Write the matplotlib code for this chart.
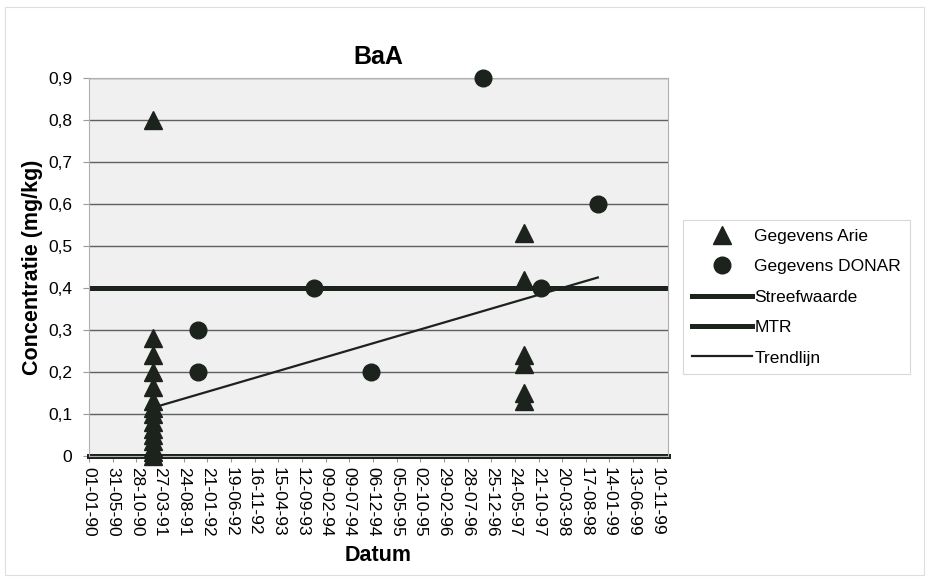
import matplotlib
matplotlib.use('Agg')
import matplotlib.pyplot as plt
from matplotlib.lines import Line2D
from matplotlib.patches import Rectangle
from datetime import datetime

plt.rcParams['font.family'] = ['Liberation Sans', 'DejaVu Sans']

# ---------------- data ----------------
title = 'BaA'
x_label = 'Datum'
y_label = 'Concentratie (mg/kg)'

tick_labels = ['01-01-90', '31-05-90', '28-10-90', '27-03-91', '24-08-91', '21-01-92',
               '19-06-92', '16-11-92', '15-04-93', '12-09-93', '09-02-94', '09-07-94',
               '06-12-94', '05-05-95', '02-10-95', '29-02-96', '28-07-96', '25-12-96',
               '24-05-97', '21-10-97', '20-03-98', '17-08-98', '14-01-99', '13-06-99',
               '10-11-99']
y_ticks = [0, 0.1, 0.2, 0.3, 0.4, 0.5, 0.6, 0.7, 0.8, 0.9]
y_tick_labels = ['0', '0,1', '0,2', '0,3', '0,4', '0,5', '0,6', '0,7', '0,8', '0,9']

arie_dates = ['10-02-1991'] * 15 + ['22-07-1997'] * 6
arie_values = [0.80, 0.28, 0.24, 0.20, 0.165, 0.13, 0.115, 0.10, 0.08, 0.065, 0.05,
               0.035, 0.02, 0.01, 0.0,
               0.53, 0.42, 0.24, 0.22, 0.15, 0.13]

donar_dates = ['21-11-1991', '21-11-1991', '25-11-1993', '27-11-1994', '04-11-1996',
               '06-11-1997', '01-11-1998']
donar_values = [0.30, 0.20, 0.40, 0.20, 0.90, 0.40, 0.60]

streefwaarde = 0.4
mtr = 0.0

trend_dates = ['10-02-1991', '01-11-1998']
trend_values = [0.115, 0.425]

x_range = ['01-01-1990', '20-01-2000']

# ---------------- helpers ----------------
def d(s):
    return datetime.strptime(s, '%d-%m-%Y')

def dt(s):
    return datetime.strptime(s, '%d-%m-%y')

dark = '#1c221c'

fig = plt.figure(figsize=(9.29, 5.82), dpi=100)
fig.patch.set_facecolor('white')

# faint outer chart border
fig.patches.append(Rectangle((5 / 929, 7 / 582), 919 / 929, 568 / 582,
                             transform=fig.transFigure, fill=False,
                             edgecolor='#dedede', linewidth=0.8))

ax = fig.add_axes([89 / 929, 1 - 456 / 582, (668 - 89) / 929, (456 - 78) / 582])
ax.set_facecolor('#f0f0f0')

ax.set_xlim(d(x_range[0]), d(x_range[1]))
ax.set_ylim(0, 0.9)

# gridlines
for v in y_ticks[1:]:
    ax.axhline(v, color='#5f5f5f', linewidth=1.0, zorder=1)

# reference lines
ax.axhline(streefwaarde, color=dark, linewidth=3.6, zorder=2)
ax.axhline(mtr, color=dark, linewidth=3.6, zorder=2, clip_on=False)

# trend line
ax.plot([d(s) for s in trend_dates], trend_values, color=dark, linewidth=1.6, zorder=3)

# data
ax.plot([d(s) for s in arie_dates], arie_values, linestyle='none', marker='^',
        markersize=12.5, color=dark, zorder=4, clip_on=False)
ax.plot([d(s) for s in donar_dates], donar_values, linestyle='none', marker='o',
        markersize=12, color=dark, zorder=4, clip_on=False)

# axes formatting
ax.set_xticks([dt(s) for s in tick_labels])
ax.set_xticklabels(tick_labels, rotation=270, fontsize=12.5)
ax.set_yticks(y_ticks)
ax.set_yticklabels(y_tick_labels, fontsize=12.5)
ax.tick_params(axis='both', direction='out', length=4, width=0.8, color='#9a9a9a')
ax.tick_params(axis='x', pad=4)
ax.tick_params(axis='y', pad=8)

for side in ['left', 'right', 'top', 'bottom']:
    ax.spines[side].set_color('#b0b0b0')
    ax.spines[side].set_linewidth(0.8)

ax.set_title(title, fontsize=18, fontweight='bold', pad=10)
ax.set_ylabel(y_label, fontsize=15.5, fontweight='bold', labelpad=4)
ax.set_xlabel(x_label, fontsize=15.5, fontweight='bold', labelpad=6)

# legend
handles = [
    Line2D([], [], linestyle='none', marker='^', markersize=12.5, color=dark),
    Line2D([], [], linestyle='none', marker='o', markersize=12, color=dark),
    Line2D([], [], color=dark, linewidth=3.6),
    Line2D([], [], color=dark, linewidth=3.6),
    Line2D([], [], color=dark, linewidth=1.6),
]
labels = ['Gegevens Arie', 'Gegevens DONAR', 'Streefwaarde', 'MTR', 'Trendlijn']
leg = fig.legend(handles, labels, loc='upper left',
                 bbox_to_anchor=(683 / 929, 1 - 220 / 582),
                 fontsize=12.5, frameon=True, fancybox=False,
                 handlelength=3.5, handletextpad=0.1, labelspacing=0.88,
                 borderpad=0.5, borderaxespad=0)
leg.get_frame().set_edgecolor('#cfcfcf')
leg.get_frame().set_linewidth(0.8)

fig.savefig('out.png', dpi=100, facecolor='white')
